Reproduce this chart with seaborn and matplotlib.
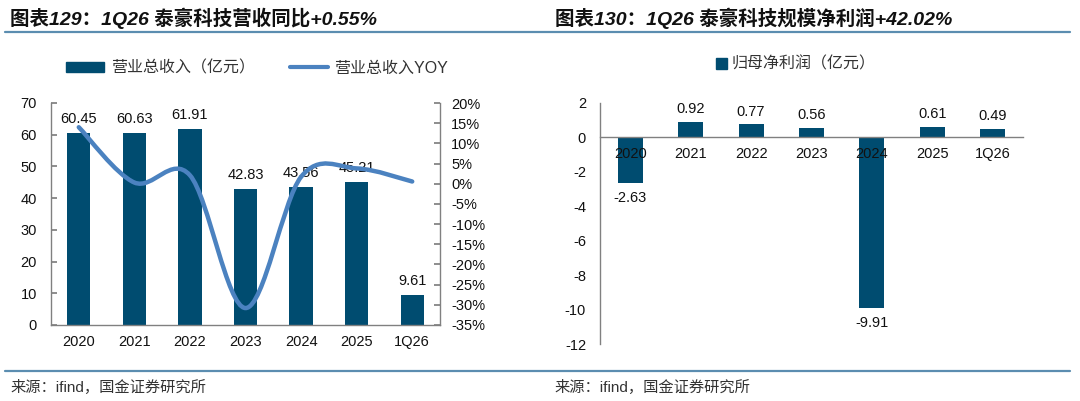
import numpy as np
import matplotlib
matplotlib.use("Agg")
import matplotlib.pyplot as plt
from matplotlib.path import Path
from matplotlib.patches import PathPatch, Patch
from matplotlib.lines import Line2D
import seaborn as sns

# data
categories = ["2020", "2021", "2022", "2023", "2024", "2025", "1Q26"]
revenue = [60.45, 60.63, 61.91, 42.83, 43.56, 45.21, 9.61]          # 亿元
revenue_yoy = [14.0, 0.3, 2.1, -30.8, 1.7, 3.8, 0.55]               # %
net_profit = [-2.63, 0.92, 0.77, 0.56, -9.91, 0.61, 0.49]           # 亿元

BAR = "#004c70"
LINE = "#4b82c0"
RULE = "#5b8db0"
SPINE = "#808080"

sns.set_theme(style="white")
plt.rcParams["font.family"] = ["Liberation Sans", "Noto Sans CJK SC"]
plt.rcParams["axes.unicode_minus"] = False


def smooth_path(xs, ys):
    # Excel style smoothed line: bezier segments through the data points
    pts = np.column_stack([xs, ys]).astype(float)
    n = len(pts)
    verts = [pts[0]]
    codes = [Path.MOVETO]
    for i in range(n - 1):
        p0 = pts[max(i - 1, 0)]
        p1 = pts[i]
        p2 = pts[i + 1]
        p3 = pts[min(i + 2, n - 1)]
        verts += [p1 + (p2 - p0) / 6, p2 - (p3 - p1) / 6, p2]
        codes += [Path.CURVE4] * 3
    return Path(verts, codes)


def style_cat_axis(ax, pad):
    ax.set_xlim(-0.5, len(categories) - 0.5)
    ax.set_xticks(np.arange(-0.5, len(categories), 1), minor=True)
    ax.tick_params(axis="x", which="major", length=0, pad=pad, labelsize=10.5, labelcolor="#111")
    ax.tick_params(axis="x", which="minor", direction="in", length=4, color=SPINE, width=1)
    ax.set_xlabel("")
    ax.set_ylabel("")
    ax.set_axisbelow(False)


fig = plt.figure(figsize=(10.8, 4.01), dpi=100)

# ---------------- left chart: revenue + yoy ----------------
ax = fig.add_axes([51 / 1080, 1 - 325 / 401, 389 / 1080, 222 / 401])
sns.barplot(x=categories, y=revenue, color=BAR, saturation=1, width=0.42, linewidth=0, ax=ax)
style_cat_axis(ax, 7)
ax.set_ylim(0, 70)
ax.set_yticks(range(0, 71, 10))
ax.tick_params(axis="y", direction="in", length=4, pad=10, labelsize=10.5, color=SPINE, labelcolor="#111")
for s in ["top", "right"]:
    ax.spines[s].set_visible(False)
for s in ["left", "bottom"]:
    ax.spines[s].set_color(SPINE)
    ax.spines[s].set_linewidth(1)
for i, v in enumerate(revenue):
    ax.annotate(f"{v:.2f}", (i, v), xytext=(0, 5), textcoords="offset points",
                ha="center", va="bottom", fontsize=10.5, color="#111")

ax2 = ax.twinx()
ax2.set_ylim(-35, 20)
ax2.set_yticks(range(-35, 21, 5))
ax2.set_yticklabels([f"{t}%" for t in range(-35, 21, 5)])
ax2.tick_params(axis="y", direction="in", length=4, pad=8, labelsize=10.5, color=SPINE, labelcolor="#111")
for s in ["top", "left", "bottom"]:
    ax2.spines[s].set_visible(False)
ax2.spines["right"].set_color(SPINE)
ax2.spines["right"].set_linewidth(1)
ax2.set_xlim(ax.get_xlim())
ax2.add_patch(PathPatch(smooth_path(range(len(categories)), revenue_yoy),
                        facecolor="none", edgecolor=LINE, lw=3.2, capstyle="round"))

fig.legend([Patch(color=BAR), Line2D([], [], color=LINE, lw=3)],
           ["营业总收入（亿元）", "营业总收入YOY"],
           loc="center", bbox_to_anchor=(0.238, 0.830), ncol=2, frameon=False,
           fontsize=11.5, labelcolor="#333", handlelength=2.4, handleheight=0.6,
           columnspacing=2.2, handletextpad=0.4)

# ---------------- right chart: net profit ----------------
axr = fig.add_axes([600 / 1080, 1 - 344 / 401, 423 / 1080, 241 / 401])
sns.barplot(x=categories, y=net_profit, color=BAR, saturation=1, width=0.415, linewidth=0, ax=axr)
style_cat_axis(axr, 7)
axr.set_ylim(-12, 2)
axr.set_yticks(range(-12, 3, 2))
axr.tick_params(axis="y", direction="in", length=4, pad=10, labelsize=10.5, color=SPINE, labelcolor="#111")
axr.spines["bottom"].set_position(("data", 0))
for s in ["top", "right"]:
    axr.spines[s].set_visible(False)
for s in ["left", "bottom"]:
    axr.spines[s].set_color(SPINE)
    axr.spines[s].set_linewidth(1)
for i, v in enumerate(net_profit):
    if v >= 0:
        axr.annotate(f"{v:.2f}", (i, v), xytext=(0, 4), textcoords="offset points",
                     ha="center", va="bottom", fontsize=10.5, color="#111")
    else:
        axr.annotate(f"{v:.2f}", (i, v), xytext=(0, -6), textcoords="offset points",
                     ha="center", va="top", fontsize=10.5, color="#111")

fig.legend([Patch(color=BAR)], ["归母净利润（亿元）"],
           loc="center", bbox_to_anchor=(0.737, 0.840), frameon=False,
           fontsize=11.5, labelcolor="#333", handlelength=0.7, handleheight=0.7,
           handletextpad=0.3)

# ---------------- titles, rules, source ----------------
fig.text(10 / 1080, 1 - 18 / 401, "图表129：1Q26 泰豪科技营收同比+0.55%",
         fontsize=14, fontweight="bold", style="italic", va="center", ha="left", color="#111")
fig.text(555 / 1080, 1 - 18 / 401, "图表130：1Q26 泰豪科技规模净利润+42.02%",
         fontsize=14, fontweight="bold", style="italic", va="center", ha="left", color="#111")
for y in [32, 371]:
    fig.add_artist(Line2D([5 / 1080, 1070 / 1080], [1 - y / 401] * 2, color=RULE, lw=1.6))
fig.text(10 / 1080, 1 - 387 / 401, "来源：ifind，国金证券研究所",
         fontsize=11, va="center", ha="left", color="#333")
fig.text(554 / 1080, 1 - 387 / 401, "来源：ifind，国金证券研究所",
         fontsize=11, va="center", ha="left", color="#333")

fig.savefig("out.png", dpi=100)
